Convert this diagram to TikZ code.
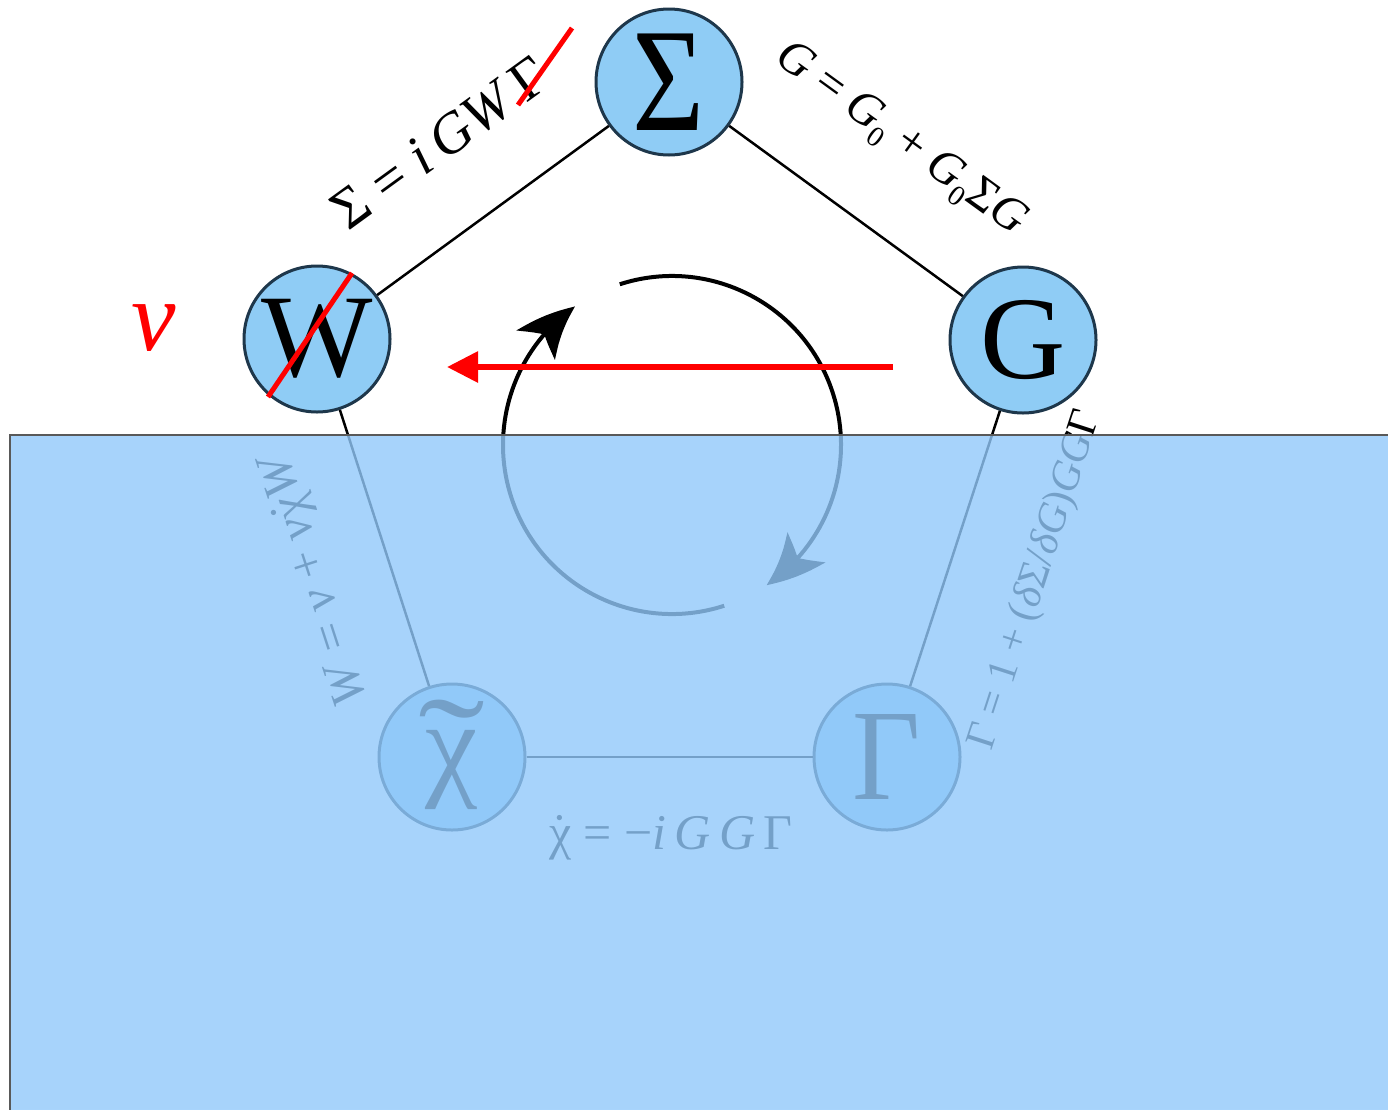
\documentclass[tikz,border=0pt]{standalone}
\usepackage{fontspec}
\setmainfont{Liberation Serif}
\usetikzlibrary{arrows.meta,bending}
\definecolor{circfill}{RGB}{143,204,245}
\definecolor{circline}{RGB}{30,55,75}
\definecolor{ovl}{RGB}{146,201,251}
\newcommand\lsub[1]{\raisebox{-0.22em}{\scalebox{0.6}{#1}}}
\newcommand\tchi{\ooalign{χ\cr\hidewidth\smash{\raisebox{-0.1em}{\scalebox{1.7}[1.2]{˜}}}\hidewidth\cr}}
\newcommand\dchi{\ooalign{χ\cr\hidewidth\raisebox{0.02em}{˙}\hidewidth\cr}}
\begin{document}
\begin{tikzpicture}[x=1pt,y=1pt,
  ball/.style={circle,draw=circline,line width=3pt,fill=circfill,minimum size=146pt,inner sep=0pt,font=\fontsize{118}{120}\selectfont},
  edge/.style={line width=2.5pt,black},
  eqn/.style={font=\fontsize{#1}{#1}\selectfont,inner sep=0pt},
  cyc/.style={line width=4pt,-{Stealth[length=56pt,width=48pt,inset=14pt,bend]}},
  strike/.style={red,line width=5pt}]
\fill[white] (0,0) rectangle (1388,-1109);
\useasboundingbox (0,0) rectangle (1388,-1109);
% nodes
\node[ball] (S) at (669,-82) {\raisebox{-4pt}{\scalebox{1.05}[1.25]{Σ}}};
\node[ball] (W) at (317,-339) {\raisebox{-9pt}{W}};
\node[ball] (G) at (1023,-340) {G};
\node[ball] (X) at (452,-757) {\tchi};
\node[ball] (Gam) at (887,-757) {\raisebox{-6pt}{\scalebox{1}[1.1]{Γ}}};
% edges
\draw[edge] (W) -- (S);
\draw[edge] (S) -- (G);
\draw[edge] (W) -- (X);
\draw[edge] (G) -- (Gam);
\draw[edge] (X) -- (Gam);
% labels
\node[eqn=57, rotate=36] (l1) at (440,-143) {Σ = \textit{i\,GW}\kern0.12em Γ};
\node[eqn=48, rotate=-36] (l2) at (900,-140) {\textit{G} = \textit{G}\lsub{0} + \textit{G}\lsub{0}Σ\textit{G}};
\node[eqn=50, rotate=108] (l3) at (312,-580) {\textit{W} = \textit{v} + \textit{v}\dchi\textit{W}};
\node[eqn=42, rotate=72] (l4) at (1036,-580) {Γ = 1 + (\textit{δ}Σ/\textit{δG})\textit{GG}Γ};
\node[eqn=50] (l5) at (671,-833) {\dchi\ = −\textit{i\,G\,G}\,Γ};
% cycle arrows
\coordinate (C) at (672,-445);
\draw[cyc] ([shift={(108:169)}]C) arc[start angle=108,end angle=-56,radius=169];
\draw[cyc] ([shift={(-72:169)}]C) arc[start angle=-72,end angle=-235,radius=169];
% overlay
\path[fill=ovl,fill opacity=0.8] (10,-435) rectangle (1400,-1120);
\draw[line width=1.5pt,black!65] (10,-1120) -- (10,-435) -- (1400,-435);
% red annotations
\coordinate (r1a) at (268,-397); \coordinate (r1b) at (352,-273);
\draw[strike] (r1a) -- (r1b);
\coordinate (r2a) at (518,-105); \coordinate (r2b) at (572,-28);
\draw[strike] (r2a) -- (r2b);
\node[text=red,inner sep=0pt,font=\fontsize{100}{100}\selectfont\itshape] (nu) at (154,-328) {v};
\coordinate (ra) at (893,-367); \coordinate (rb) at (447,-367);
\draw[red,line width=6pt,-{Triangle[length=31pt,width=30pt]}] (ra) -- (rb);
\end{tikzpicture}
\end{document}
